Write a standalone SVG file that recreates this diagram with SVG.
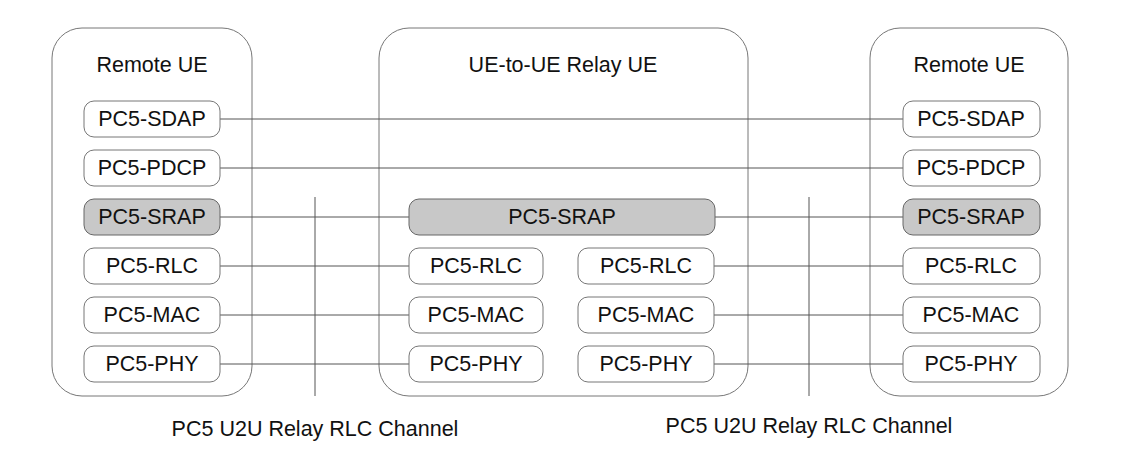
<svg xmlns="http://www.w3.org/2000/svg" width="1124" height="464" viewBox="0 0 1124 464">
<style>
.c{fill:#fff;stroke:#777;stroke-width:1}
.b{fill:#fff;stroke:#777;stroke-width:1}
.g{fill:#c8c8c8;stroke:#666;stroke-width:1}
text{font-family:"Liberation Sans",Arial,sans-serif;font-size:21.5px;fill:#111;text-anchor:middle;dominant-baseline:central}
.l{stroke:#555;stroke-width:1;fill:none}
</style>
<rect width="1124" height="464" fill="#fff"/>
<g id="containers">
<rect class="c" x="52" y="28" width="200" height="368" rx="30"/>
<rect class="c" x="379" y="28" width="369" height="368" rx="30"/>
<rect class="c" x="870" y="28" width="198" height="368" rx="30"/>
<text x="152" y="65">Remote UE</text>
<text x="563" y="65">UE-to-UE Relay UE</text>
<text x="969" y="65">Remote UE</text>
</g>
<g id="connectors">
<line class="l" x1="220" y1="119" x2="903" y2="119"/>
<line class="l" x1="220" y1="168" x2="903" y2="168"/>
<line class="l" x1="220" y1="217" x2="409" y2="217"/>
<line class="l" x1="715" y1="217" x2="903" y2="217"/>
<line class="l" x1="220" y1="266" x2="409" y2="266"/>
<line class="l" x1="714" y1="266" x2="903" y2="266"/>
<line class="l" x1="220" y1="315" x2="409" y2="315"/>
<line class="l" x1="714" y1="315" x2="903" y2="315"/>
<line class="l" x1="220" y1="364" x2="409" y2="364"/>
<line class="l" x1="714" y1="364" x2="903" y2="364"/>
<line class="l" x1="315" y1="197" x2="315" y2="396"/>
<line class="l" x1="809" y1="197" x2="809" y2="396"/>
</g>
<g id="left">
<rect class="b" x="84" y="101" width="136" height="36" rx="10"/><text x="152" y="119">PC5-SDAP</text>
<rect class="b" x="84" y="150" width="136" height="36" rx="10"/><text x="152" y="168">PC5-PDCP</text>
<rect class="g" x="84" y="199" width="136" height="36" rx="10"/><text x="152" y="217">PC5-SRAP</text>
<rect class="b" x="84" y="248" width="136" height="36" rx="10"/><text x="152" y="266">PC5-RLC</text>
<rect class="b" x="84" y="297" width="136" height="36" rx="10"/><text x="152" y="315">PC5-MAC</text>
<rect class="b" x="84" y="346" width="136" height="36" rx="10"/><text x="152" y="364">PC5-PHY</text>
</g>
<g id="middle">
<rect class="g" x="409" y="199" width="306" height="36" rx="10"/><text x="562" y="217">PC5-SRAP</text>
<rect class="b" x="409" y="248" width="134" height="36" rx="10"/><text x="476" y="266">PC5-RLC</text>
<rect class="b" x="578" y="248" width="136" height="36" rx="10"/><text x="646" y="266">PC5-RLC</text>
<rect class="b" x="409" y="297" width="134" height="36" rx="10"/><text x="476" y="315">PC5-MAC</text>
<rect class="b" x="578" y="297" width="136" height="36" rx="10"/><text x="646" y="315">PC5-MAC</text>
<rect class="b" x="409" y="346" width="134" height="36" rx="10"/><text x="476" y="364">PC5-PHY</text>
<rect class="b" x="578" y="346" width="136" height="36" rx="10"/><text x="646" y="364">PC5-PHY</text>
</g>
<g id="right">
<rect class="b" x="903" y="101" width="137" height="36" rx="10"/><text x="971" y="119">PC5-SDAP</text>
<rect class="b" x="903" y="150" width="137" height="36" rx="10"/><text x="971" y="168">PC5-PDCP</text>
<rect class="g" x="903" y="199" width="137" height="36" rx="10"/><text x="971" y="217">PC5-SRAP</text>
<rect class="b" x="903" y="248" width="137" height="36" rx="10"/><text x="971" y="266">PC5-RLC</text>
<rect class="b" x="903" y="297" width="137" height="36" rx="10"/><text x="971" y="315">PC5-MAC</text>
<rect class="b" x="903" y="346" width="137" height="36" rx="10"/><text x="971" y="364">PC5-PHY</text>
</g>
<g id="labels">
<text x="315" y="429">PC5 U2U Relay RLC Channel</text>
<text x="809" y="426">PC5 U2U Relay RLC Channel</text>
</g>
</svg>
